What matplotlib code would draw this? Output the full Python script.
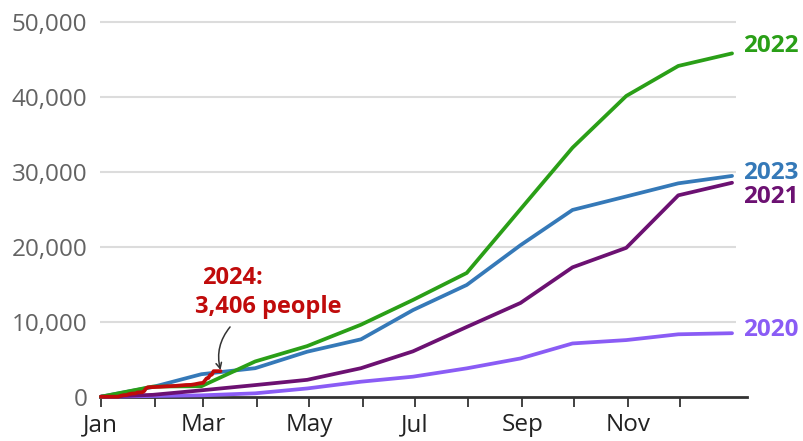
import matplotlib
matplotlib.use('Agg')
import matplotlib.pyplot as plt
from matplotlib.ticker import FuncFormatter

plt.rcParams['font.family'] = ['Open Sans', 'DejaVu Sans']

# day-of-year at the end of each month (Jan 1 = day 1)
month_end_days = [31, 59, 90, 120, 151, 181, 212, 243, 273, 304, 334, 365]
month_start_days = [1, 32, 60, 91, 121, 152, 182, 213, 244, 274, 305, 335]
month_labels = ['Jan', '', 'Mar', '', 'May', '', 'Jul', '', 'Sep', '', 'Nov', '']

# cumulative small boat arrivals at the end of each month
arrivals_2020 = [90, 180, 450, 1100, 2000, 2670, 3780, 5100, 7100, 7550, 8320, 8466]
arrivals_2021 = [250, 850, 1550, 2250, 3800, 6050, 9300, 12500, 17250, 19850, 26850, 28526]
arrivals_2022 = [1350, 1400, 4700, 6750, 9600, 12900, 16500, 25000, 33200, 40100, 44100, 45774]
arrivals_2023 = [1300, 3000, 3800, 6000, 7650, 11550, 14900, 20200, 24900, 26700, 28450, 29437]

# 2024 so far, daily running total
days_2024 = [1, 11, 12, 14, 16, 17, 19, 21, 22, 25, 26, 27, 28, 33, 35, 38, 42, 44, 46,
             50, 53, 55, 58, 60, 61, 62, 63, 64, 65, 66, 70]
total_2024 = [0, 0, 90, 200, 230, 330, 420, 440, 560, 600, 760, 1100, 1250, 1300, 1320,
              1370, 1420, 1440, 1480, 1560, 1580, 1650, 1790, 1850, 2150, 2450, 2500,
              2900, 2950, 3406, 3406]

series = [
    ('2020', arrivals_2020, '#8a5cf5', 8900),
    ('2021', arrivals_2021, '#6c1172', 26600),
    ('2023', arrivals_2023, '#3579b8', 29800),
    ('2022', arrivals_2022, '#2a9f17', 46800),
]

W, H = 804, 441
fig = plt.figure(figsize=(W / 100, H / 100), dpi=100)
PX_PER_DAY = 1.734
X0 = 0.5
ax_left, ax_right = 100, 747
ax_bottom, ax_top = H - 396.7, H - 21.7
ax = fig.add_axes([ax_left / W, ax_bottom / H, (ax_right - ax_left) / W, (ax_top - ax_bottom) / H])
ax.set_xlim(X0, X0 + (ax_right - ax_left) / PX_PER_DAY)
ax.set_ylim(0, 50000)

# gridlines stop a little short of the right edge
grid_end = X0 + (736 - ax_left) / PX_PER_DAY
yticks = [10000, 20000, 30000, 40000, 50000]
ax.hlines(yticks, X0, grid_end, color='#dcdcdc', lw=1.5, zorder=0, clip_on=False)

for name, vals, col, label_y in series:
    ax.plot([1] + month_end_days, [0] + vals, color=col, lw=2.7,
            solid_capstyle='round', solid_joinstyle='round', clip_on=False, zorder=3)
    ax.text(371.5, label_y, name, color=col, fontsize=17.5, fontweight='bold',
            va='center', ha='left', clip_on=False)

ax.plot(days_2024, total_2024, color='#c00b0b', lw=2.7,
        solid_capstyle='round', solid_joinstyle='round', clip_on=False, zorder=4)

ax.text(59.5, 15800, '2024:', color='#c00b0b', fontsize=17,
        fontweight='bold', ha='left', va='center')
ax.text(55, 11900, '3,406 people', color='#c00b0b', fontsize=17,
        fontweight='bold', ha='left', va='center')
ax.annotate('', xy=(days_2024[-1], total_2024[-1] + 150), xytext=(75.5, 9300),
            arrowprops=dict(arrowstyle='->', color='#333333', lw=1.1,
                            connectionstyle='arc3,rad=0.25', shrinkA=0, shrinkB=0))

for s in ['top', 'right', 'left']:
    ax.spines[s].set_visible(False)
ax.spines['bottom'].set_color('#333333')
ax.spines['bottom'].set_linewidth(2)
ax.spines['bottom'].set_zorder(2)

ax.set_yticks([0] + yticks)
ax.yaxis.set_major_formatter(FuncFormatter(lambda v, p: f'{int(v):,}'))
ax.tick_params(axis='y', length=0, pad=9, labelsize=17.5, labelcolor='#636363')
ax.set_xticks(month_start_days)
ax.set_xticklabels(month_labels)
ax.tick_params(axis='x', length=7, width=1.3, color='#333333', pad=5,
               labelsize=17.5, labelcolor='#222222')

fig.savefig('out.png', dpi=100)
